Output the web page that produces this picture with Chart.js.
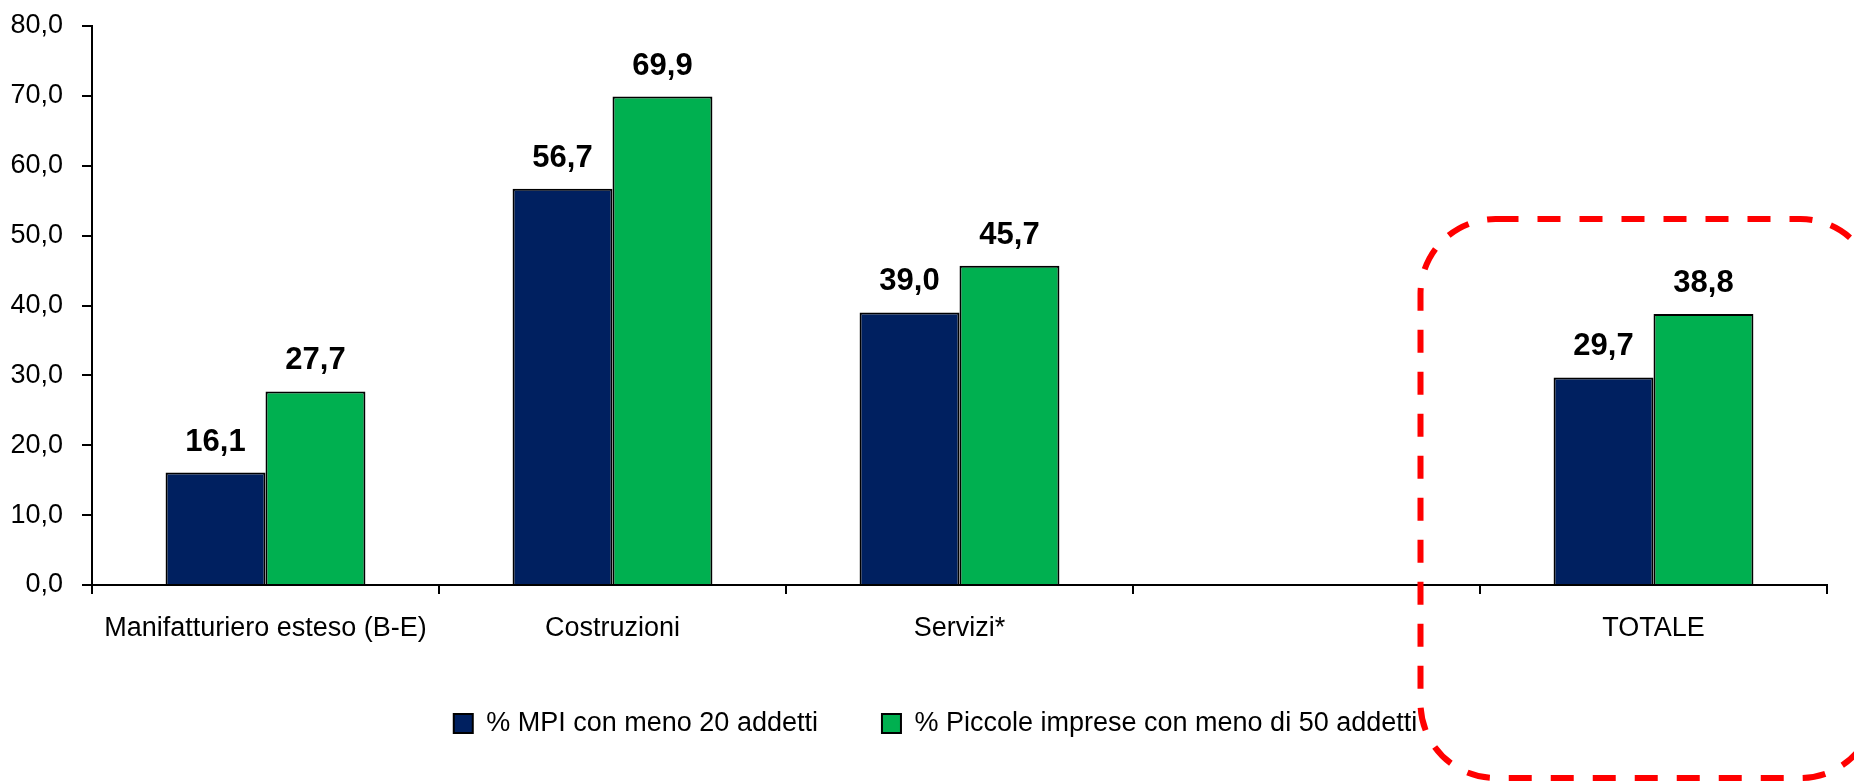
<!DOCTYPE html>
<html>
<head>
<meta charset="utf-8">
<script src="https://cdn.jsdelivr.net/npm/chart.js@4.4.0/dist/chart.umd.min.js"></script>
<style>
  html, body { margin: 0; padding: 0; background: #fff; }
  #wrap { width: 1854px; height: 784px; }
</style>
</head>
<body>
<div id="wrap"><canvas id="chart" width="1854" height="784"></canvas></div>
<script>
const categories = ['Manifatturiero esteso (B-E)', 'Costruzioni', 'Servizi*', '', 'TOTALE'];
const mpi20 = [16.1, 56.7, 39.0, null, 29.7];
const piccole50 = [27.7, 69.9, 45.7, null, 38.8];
const seriesNames = ['% MPI con meno 20 addetti', '% Piccole imprese con meno di 50 addetti'];
const yTicks = [0, 10, 20, 30, 40, 50, 60, 70, 80];

const FONT = '"Liberation Sans", Arial, sans-serif';

function fmt(v) {
    return v.toFixed(1).replace('.', ',');
}

// numbers above each bar
const valueLabels = {
    id: 'valueLabels',
    afterDatasetsDraw(chart) {
        const ctx = chart.ctx;
        ctx.save();
        ctx.font = 'bold 31px ' + FONT;
        ctx.fillStyle = '#000';
        ctx.textAlign = 'center';
        ctx.textBaseline = 'alphabetic';
        chart.data.datasets.forEach((ds, i) => {
            const meta = chart.getDatasetMeta(i);
            meta.data.forEach((bar, j) => {
                const v = ds.data[j];
                if (v === null) return;
                ctx.fillText(fmt(v), bar.x, bar.y - 22);
            });
        });
        ctx.restore();
    }
};

// legend sits a little right of the chart centre
const legendShift = {
    id: 'legendShift',
    afterLayout(chart) {
        chart.legend.left += 22;
        chart.legend.right += 22;
    }
};

// dashed red frame around the total
const totalFrame = {
    id: 'totalFrame',
    afterDraw(chart) {
        const ctx = chart.ctx;
        const cx = chart.scales.x.getPixelForValue(4);
        const left = cx - 233;
        const right = cx + 222;
        const top = chart.chartArea.top + 193;
        const bottom = chart.height - 6;
        ctx.save();
        ctx.strokeStyle = '#ff0000';
        ctx.lineWidth = 6;
        ctx.setLineDash([23, 19]);
        ctx.beginPath();
        ctx.roundRect(left, top, right - left, bottom - top, 75);
        ctx.stroke();
        ctx.restore();
    }
};

new Chart(document.getElementById('chart'), {
    type: 'bar',
    data: {
        labels: categories,
        datasets: [{
            label: seriesNames[0],
            data: mpi20,
            backgroundColor: '#002060',
            borderColor: '#000',
            borderWidth: 2
        }, {
            label: seriesNames[1],
            data: piccole50,
            backgroundColor: '#00B050',
            borderColor: '#000',
            borderWidth: 2
        }]
    },
    options: {
        responsive: false,
        animation: false,
        devicePixelRatio: 1,
        layout: {
            padding: { left: 0, right: 27, top: 26, bottom: 37 }
        },
        categoryPercentage: 0.576,
        barPercentage: 1,
        plugins: {
            tooltip: { enabled: false },
            legend: {
                position: 'bottom',
                labels: {
                    font: { family: FONT, size: 27 },
                    color: '#000',
                    boxWidth: 19,
                    boxHeight: 19,
                    padding: 64
                }
            }
        },
        scales: {
            x: {
                grid: {
                    drawOnChartArea: false,
                    offset: true,
                    color: '#000',
                    lineWidth: 2,
                    tickLength: 9
                },
                border: { color: '#000', width: 2 },
                ticks: {
                    font: { family: FONT, size: 27 },
                    color: '#000',
                    padding: 18,
                    maxRotation: 0,
                    autoSkip: false
                },
                afterFit(scale) { scale.height = 61; }
            },
            y: {
                min: 0,
                max: 80,
                afterBuildTicks(scale) {
                    scale.ticks = yTicks.map(v => ({ value: v }));
                },
                grid: {
                    drawOnChartArea: false,
                    color: '#000',
                    lineWidth: 2,
                    tickLength: 10
                },
                border: { color: '#000', width: 2 },
                ticks: {
                    font: { family: FONT, size: 27 },
                    color: '#000',
                    padding: 19,
                    callback: v => fmt(v)
                },
                afterFit(scale) {
                    scale.width = 92;
                    scale.paddingTop = 0;
                    scale.paddingBottom = 0;
                }
            }
        }
    },
    plugins: [valueLabels, legendShift, totalFrame]
});
</script>
</body>
</html>
